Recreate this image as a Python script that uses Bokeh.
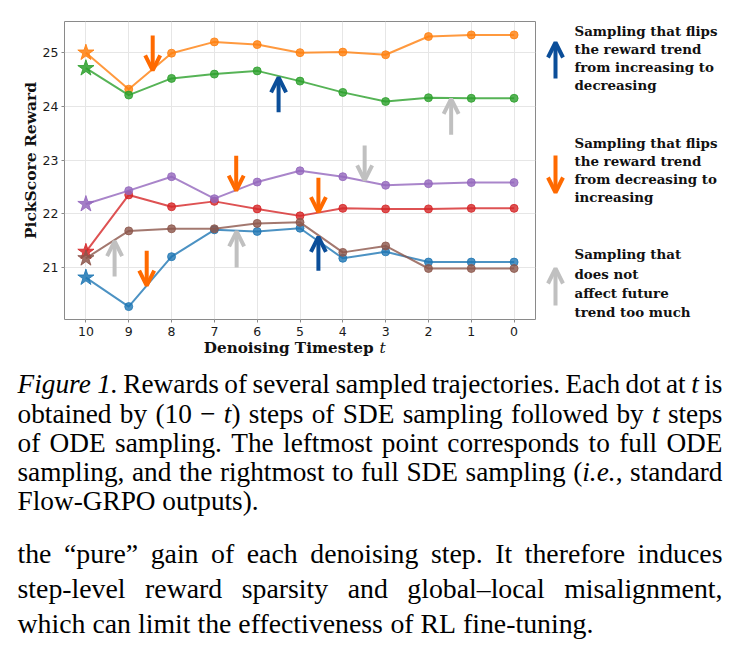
import math
from bokeh.plotting import figure
from bokeh.models import Range1d, FixedTicker, Arrow, OpenHead
from bokeh.layouts import column, row
from bokeh.core.properties import value
from bokeh.embed import file_html
from bokeh.resources import INLINE

# ---------------- data ----------------
timesteps = [10, 9, 8, 7, 6, 5, 4, 3, 2, 1, 0]
blue_vals = [20.81, 20.27, 21.20, 21.70, 21.67, 21.73, 21.17, 21.29, 21.10, 21.10, 21.10]
orange_vals = [25.00, 24.32, 24.99, 25.20, 25.15, 25.00, 25.01, 24.96, 25.30, 25.33, 25.33]
green_vals = [24.71, 24.21, 24.52, 24.60, 24.66, 24.47, 24.26, 24.09, 24.16, 24.15, 24.15]
red_vals = [21.29, 22.35, 22.13, 22.23, 22.09, 21.96, 22.10, 22.09, 22.09, 22.10, 22.10]
purple_vals = [22.18, 22.43, 22.69, 22.28, 22.59, 22.80, 22.69, 22.53, 22.56, 22.58, 22.58]
brown_vals = [21.17, 21.68, 21.72, 21.72, 21.82, 21.84, 21.28, 21.40, 20.98, 20.98, 20.98]
x_tick_values = [10, 9, 8, 7, 6, 5, 4, 3, 2, 1, 0]
y_tick_values = [21, 22, 23, 24, 25]

# arrows: (t, reward_start, reward_end)
blue_arrows = [(5.50, 23.89, 24.54), (4.57, 20.94, 21.57)]
orange_arrows = [(8.44, 25.32, 24.67), (6.49, 23.08, 22.43), (4.57, 22.67, 22.03), (8.58, 21.31, 20.66)]
gray_arrows = [(1.47, 23.47, 24.14), (3.49, 23.27, 22.62), (9.33, 20.83, 21.49), (6.48, 21.00, 21.67)]

legend_blocks = [
    ["Sampling that flips", "the reward trend", "from increasing to", "decreasing"],
    ["Sampling that flips", "the reward trend", "from decreasing to", "increasing"],
    ["Sampling that", "does not", "affect future", "trend too much"],
]

caption_lines = [
    "*Figure* *1.* Rewards of several sampled trajectories. Each dot at *t* is",
    "obtained by (10 − *t*) steps of SDE sampling followed by *t* steps",
    "of ODE sampling. The leftmost point corresponds to full ODE",
    "sampling, and the rightmost to full SDE sampling (*i.e.*, standard",
    "Flow-GRPO outputs).",
]
body_lines = [
    "the “pure” gain of each denoising step. It therefore induces",
    "step-level reward sparsity and global–local misalignment,",
    "which can limit the effectiveness of RL fine-tuning.",
]

# ---------------- layout ----------------
W, H = 739, 656
TOP_H = 338
YLAB_W = 39
FL, FR, FT, FB = 63, 535, 21, 319
MAIN_W = 540 - YLAB_W
XR = (10.5, -0.5)
YR = (20.03, 25.58)

ARROW_COLORS = {"blue": "#0b4e99", "orange": "#ff6a00", "gray": "#c0c0c0"}
INK = "#111111"
SERIF = "'Liberation Serif', 'Times New Roman', Times, serif"

def add_arrow(fig, x0, y0, x1, y1, col):
    fig.add_layout(Arrow(x_start=x0, y_start=y0, x_end=x1, y_end=y1,
                         line_color=col, line_width=4,
                         end=OpenHead(size=15, line_color=col, line_width=4)))

# ---- main chart ----
p = figure(width=MAIN_W, height=TOP_H, output_backend="svg", toolbar_location=None,
           x_range=Range1d(*XR), y_range=Range1d(*YR),
           min_border_left=FL - YLAB_W, min_border_right=540 - FR,
           min_border_top=FT, min_border_bottom=TOP_H - FB)
p.background_fill_color = "white"
p.border_fill_color = "white"
p.outline_line_color = "#8a8a8a"
p.outline_line_width = 1

for ax in (p.xaxis[0], p.yaxis[0]):
    ax.axis_line_color = None
    ax.major_tick_out = 3
    ax.major_tick_in = 0
    ax.major_tick_line_color = "#8a8a8a"
    ax.minor_tick_line_color = None
    ax.major_label_text_font = "DejaVu Sans"
    ax.major_label_text_font_size = "12.5px"
    ax.major_label_text_color = "#1a1a1a"
p.xaxis.ticker = FixedTicker(ticks=x_tick_values)
p.yaxis.ticker = FixedTicker(ticks=y_tick_values)
p.xaxis.major_label_standoff = 4
p.yaxis.major_label_standoff = 3
p.xgrid.ticker = FixedTicker(ticks=x_tick_values)
p.ygrid.ticker = FixedTicker(ticks=y_tick_values)
p.grid.grid_line_color = "#e6e6e6"
p.grid.grid_line_width = 1

series = [
    (blue_vals, "#1f77b4"),
    (orange_vals, "#ff7f0e"),
    (green_vals, "#2ca02c"),
    (red_vals, "#d62728"),
    (purple_vals, "#9467bd"),
    (brown_vals, "#8c564b"),
]
for vals, col in series:
    p.line(timesteps, vals, line_color=col, line_width=2, line_alpha=0.8)
    p.scatter(timesteps[1:], vals[1:], marker="circle", size=8,
              fill_color=col, line_color=col, fill_alpha=0.8, line_alpha=0.8)
    p.scatter(timesteps[:1], vals[:1], marker="star", size=17,
              fill_color=col, line_color=col, fill_alpha=0.85, line_alpha=0.85)

for t, a, b in blue_arrows:
    add_arrow(p, t, a, t, b, ARROW_COLORS["blue"])
for t, a, b in orange_arrows:
    add_arrow(p, t, a, t, b, ARROW_COLORS["orange"])
for t, a, b in gray_arrows:
    add_arrow(p, t, a, t, b, ARROW_COLORS["gray"])

# ---- helpers for side canvases: frame spans the same rows as the main chart ----
def side_canvas(w, yrange):
    f = figure(width=w, height=TOP_H, output_backend="svg", toolbar_location=None,
               x_range=Range1d(0, w), y_range=yrange,
               x_axis_type=None, y_axis_type=None,
               min_border_left=0, min_border_right=0,
               min_border_top=FT, min_border_bottom=TOP_H - FB)
    f.outline_line_color = None
    f.background_fill_color = "white"
    f.border_fill_color = "white"
    return f

# ---- y label panel (y upward: value = TOP_H - pixel row) ----
yl = side_canvas(YLAB_W, Range1d(TOP_H - FB, TOP_H - FT))
yl.text(x=[29.5], y=[TOP_H - 160], text=["PickScore Reward"], angle=math.pi / 2,
        text_font=value("DejaVu Serif"), text_font_style=value("bold"),
        text_font_size=value("15.5px"), text_color=INK,
        text_align="center", text_baseline="middle")

# ---- legend panel (y = pixel row) ----
lg = side_canvas(W - 540, Range1d(FB, FT))
lx = 555 - 540
add_arrow(lg, lx, 78, lx, 42, ARROW_COLORS["blue"])
add_arrow(lg, lx, 155, lx, 192, ARROW_COLORS["orange"])
add_arrow(lg, lx, 305, lx, 268, ARROW_COLORS["gray"])
legend_y = [[30, 48, 66, 84], [142, 160, 178, 196], [253, 273, 292, 311]]
for block, ys in zip(legend_blocks, legend_y):
    lg.text(x=[574 - 540] * len(block), y=ys, text=block,
            text_font=value("DejaVu Serif"), text_font_style=value("bold"),
            text_font_size=value("13.4px"), text_color=INK,
            text_baseline="middle", text_align="left")

# ---- caption panel ----
CH = H - TOP_H
OFF = TOP_H
cp = figure(width=W, height=CH, output_backend="svg", toolbar_location=None,
            x_range=Range1d(0, W), y_range=Range1d(CH, 0),
            x_axis_type=None, y_axis_type=None,
            min_border_left=0, min_border_right=0, min_border_top=0, min_border_bottom=0)
cp.outline_line_color = None
cp.background_fill_color = "white"
cp.border_fill_color = "white"

cp.text(x=[373], y=[347 - OFF], text=["Denoising Timestep"],
        text_font=value("DejaVu Serif"), text_font_style=value("bold"),
        text_font_size=value("15.2px"), text_color=INK,
        text_align="right", text_baseline="middle")
cp.text(x=[379], y=[347 - OFF], text=["t"],
        text_font=value("DejaVu Serif"), text_font_style=value("italic"),
        text_font_size=value("15.5px"), text_color=INK,
        text_align="left", text_baseline="middle")

TR = {' ': 250, '(': 333, ')': 333, ',': 250, '-': 333, '.': 250, '0': 500, '1': 500,
      '“': 444, '”': 444, '–': 500, '−': 564,
      'A': 722, 'D': 722, 'E': 611, 'F': 556, 'G': 722, 'I': 333, 'L': 611, 'O': 722,
      'P': 556, 'R': 667, 'S': 556, 'T': 611,
      'a': 444, 'b': 500, 'c': 444, 'd': 500, 'e': 444, 'f': 333, 'g': 500, 'h': 500,
      'i': 278, 'j': 278, 'k': 500, 'l': 278, 'm': 778, 'n': 500, 'o': 500, 'p': 500,
      'q': 500, 'r': 333, 's': 389, 't': 278, 'u': 500, 'v': 500, 'w': 722, 'x': 500,
      'y': 500, 'z': 444}
TI = {'F': 611, 'i': 278, 'g': 500, 'u': 500, 'r': 389, 'e': 444, '1': 500, '.': 250, 't': 278}

def seg_w(s, ital, fs):
    tab = TI if ital else TR
    return sum(tab.get(c, TR.get(c, 500)) for c in s) / 1000.0 * fs

def place_lines(lines, baselines, justify_flags, fs, left=17, right=722):
    reg = {"x": [], "y": [], "text": []}
    ita = {"x": [], "y": [], "text": []}
    for line, base, just in zip(lines, baselines, justify_flags):
        tokens = []
        for tok in line.split(" "):
            parts = tok.split("*")
            segs = [(s, i % 2 == 1) for i, s in enumerate(parts) if s]
            tokens.append(segs)
        widths = [sum(seg_w(s, it, fs) for s, it in segs) for segs in tokens]
        space = 0.25 * fs
        if just and len(tokens) > 1:
            space = max(0.2 * fs, (right - left - sum(widths)) / (len(tokens) - 1))
        x = left
        for segs, w in zip(tokens, widths):
            sx = x
            for s, it in segs:
                d = ita if it else reg
                d["x"].append(sx)
                d["y"].append(base - OFF)
                d["text"].append(s)
                sx += seg_w(s, it, fs)
            x += w + space
    for d, style in ((reg, "normal"), (ita, "italic")):
        if d["text"]:
            cp.text(x=d["x"], y=d["y"], text=d["text"],
                    text_font=value(SERIF), text_font_style=value(style),
                    text_font_size=value(f"{fs}px"), text_color="#000000",
                    text_align="left", text_baseline="alphabetic")

place_lines(caption_lines, [383, 413, 442, 471, 500], [True, True, True, True, False], 27.3)
place_lines(body_lines, [553, 588, 623], [True, True, False], 27.8)

layout = column(row(yl, p, lg, spacing=0), cp, spacing=0)
open("out.html", "w").write(file_html(layout, INLINE))
